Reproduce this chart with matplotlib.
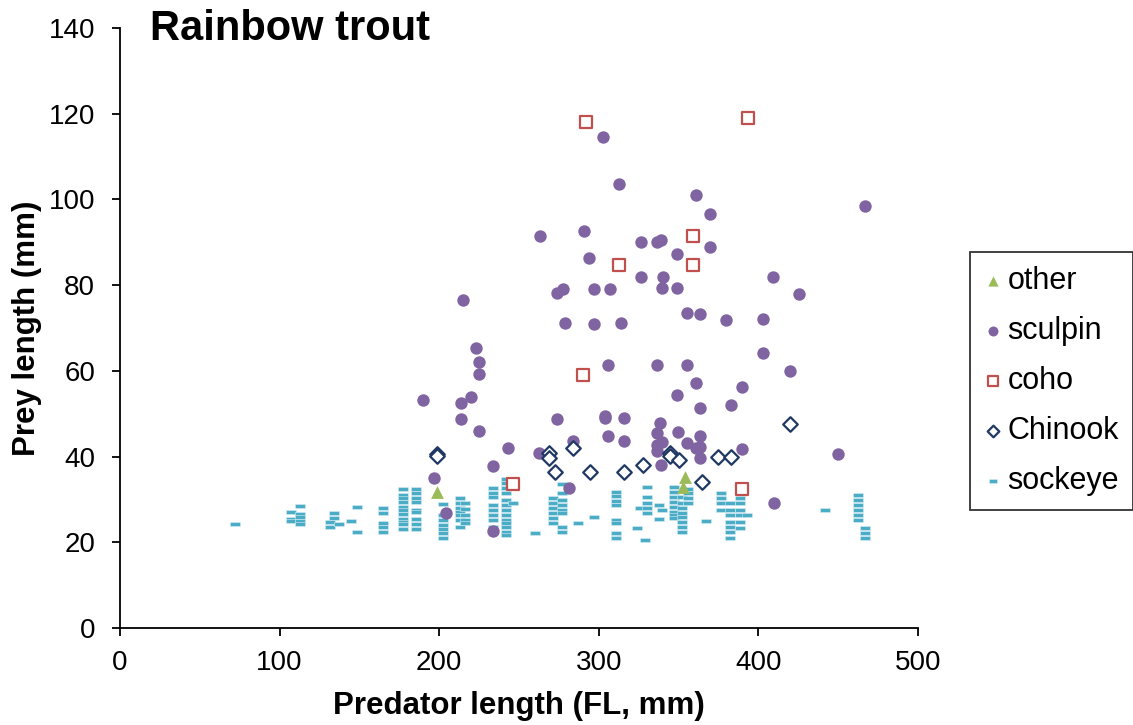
import matplotlib
matplotlib.use("Agg")
import matplotlib.pyplot as plt

plt.rcParams['font.family'] = ['Liberation Sans', 'DejaVu Sans']

# data (predator length, prey length)
other_x = [198.8, 354.0, 352.5]
other_y = [31.8, 35.3, 32.8]

sculpin_x = [302.8, 312.9, 263.0, 290.7, 326.6, 336.2, 338.7, 348.8, 360.9, 369.7,
             369.7, 466.8, 293.9, 326.6, 340.4, 409.3, 273.6, 277.7, 297.0, 306.8,
             339.4, 348.8, 214.7, 425.6, 278.8, 297.0, 313.7, 355.0, 363.6, 379.7,
             402.7, 222.9, 224.7, 224.7, 402.7, 419.8, 305.8, 336.5, 355.0, 360.9,
             348.8, 389.9, 189.7, 219.7, 213.9, 213.9, 363.6, 382.8, 224.7, 273.8,
             303.9, 303.9, 315.6, 305.8, 315.6, 338.3, 336.5, 349.8, 363.6, 336.5,
             339.6, 336.5, 355.0, 363.6, 360.9, 389.9, 242.9, 283.6, 262.7, 233.9,
             338.7, 363.6, 449.6, 196.9, 204.0, 233.9, 281.5, 409.8]
sculpin_y = [114.6, 103.6, 91.4, 92.7, 90.0, 90.0, 90.5, 87.3, 101.0, 96.5,
             88.8, 98.4, 86.3, 82.0, 82.0, 82.0, 78.2, 79.0, 79.0, 79.0,
             79.3, 79.4, 76.6, 77.9, 71.2, 70.9, 71.2, 73.6, 73.2, 71.8,
             72.0, 65.4, 62.1, 59.3, 64.2, 60.0, 61.3, 61.3, 61.4, 57.2,
             54.4, 56.2, 53.1, 54.0, 52.6, 48.7, 51.4, 52.1, 46.0, 48.7,
             49.5, 48.9, 48.9, 44.7, 43.7, 47.8, 45.5, 45.7, 44.8, 42.7,
             43.5, 41.3, 43.1, 42.2, 41.9, 41.7, 41.9, 43.7, 40.9, 37.9,
             38.0, 39.6, 40.6, 35.1, 26.8, 22.7, 32.7, 29.2]

coho_x = [291.8, 393.7, 358.8, 312.9, 358.8, 289.9, 246.4, 389.9]
coho_y = [118.1, 119.1, 91.5, 84.7, 84.7, 59.0, 33.6, 32.4]

chinook_x = [198.8, 198.8, 268.6, 268.6, 283.6, 272.7, 294.7, 316.0, 327.9, 344.6,
             344.6, 350.0, 374.7, 382.8, 419.8, 364.4]
chinook_y = [40.5, 40.1, 40.8, 39.6, 42.1, 36.5, 36.5, 36.5, 38.0, 40.9,
             40.1, 39.2, 40.0, 40.0, 47.5, 34.0]

# sockeye, grouped by predator length column
sockeye_cols = [
    (72.1, [24.3]),
    (107.1, [27.0, 25.4, 25.0]),
    (113.0, [28.5, 26.6, 25.8, 25.0, 24.3]),
    (134.1, [26.9, 25.6]),
    (131.6, [24.8, 23.6]),
    (137.0, [24.3]),
    (145.0, [25.0]),
    (148.5, [28.2, 22.5]),
    (165.0, [27.9, 26.8, 24.4, 23.6, 22.5]),
    (177.1, [32.4, 31.0, 30.3, 29.3, 28.3, 27.5, 26.5, 25.4, 24.8, 24.2, 23.1]),
    (185.2, [32.4, 31.4, 30.3, 29.3, 27.5, 27.1, 25.4, 24.2, 23.1]),
    (202.2, [28.9, 26.4, 25.2, 24.0, 23.1, 22.1, 21.1]),
    (213.0, [30.4, 29.1, 27.9, 27.1, 26.4, 25.2, 23.6]),
    (216.2, [29.1, 27.7, 26.4, 25.2, 24.4]),
    (233.9, [32.6, 31.4, 30.6, 28.7, 27.5, 26.4, 25.2, 23.6]),
    (241.9, [34.8, 33.8, 32.6, 31.4, 29.9, 28.7, 27.5, 26.4, 25.2, 24.4, 23.6, 22.5, 21.7]),
    (246.0, [29.2]),
    (260.0, [22.1]),
    (271.1, [30.3, 29.1, 27.9, 26.8, 25.6, 24.4]),
    (276.7, [33.6, 31.4, 29.9, 28.7, 27.5, 26.8, 23.6, 22.5]),
    (286.8, [24.4]),
    (297.0, [26.0]),
    (310.8, [31.8, 30.8, 29.7, 28.7, 25.2, 24.4, 22.1, 21.1]),
    (324.1, [23.3]),
    (325.8, [28.1]),
    (329.0, [20.5]),
    (330.0, [33.0, 30.6, 29.1, 27.9, 26.8]),
    (338.0, [28.7, 25.4]),
    (339.4, [27.5]),
    (347.1, [33.0, 31.8, 30.6, 29.5, 28.3, 27.1, 26.4, 25.6]),
    (351.9, [30.6, 29.2, 27.9, 26.8, 26.0, 24.8, 23.6, 22.5]),
    (356.1, [32.4, 31.4, 30.4, 29.2]),
    (367.2, [25.0]),
    (376.6, [31.4, 30.3, 29.1, 27.5]),
    (382.2, [29.1, 27.5, 26.4, 24.8, 23.6, 22.5, 21.0]),
    (388.5, [32.6, 31.4, 30.3, 29.1, 27.5, 26.4, 24.8, 23.3]),
    (392.6, [26.4]),
    (441.7, [27.5]),
    (462.6, [31.0, 29.9, 28.7, 27.5, 26.4, 25.2]),
    (466.8, [23.3, 22.1, 20.9]),
]
sockeye_x = [x for x, ys in sockeye_cols for _ in ys]
sockeye_y = [y for _, ys in sockeye_cols for y in ys]

dash = [(-1, -0.46), (1, -0.46), (1, 0.46), (-1, 0.46), (-1, -0.46)]

fig = plt.figure(figsize=(11.33, 7.25), dpi=100)
ax = fig.add_axes([120 / 1133, 1 - 628 / 725, 798 / 1133, 600 / 725])

ax.scatter(sockeye_x, sockeye_y, marker=dash, s=50, color='#4BACC6',
           edgecolor='#D8EEF4', linewidths=0.4, label='sockeye', zorder=2)
ax.scatter(other_x, other_y, marker='^', s=85, color='#9BBB59', linewidths=0,
           label='other', zorder=3)
ax.scatter(sculpin_x, sculpin_y, marker='o', s=80, color='#8064A2', linewidths=0,
           label='sculpin', zorder=3)
ax.scatter(coho_x, coho_y, marker='s', s=70, facecolor='white', edgecolor='#C0504D',
           linewidths=1.6, label='coho', zorder=4)
ax.scatter(chinook_x, chinook_y, marker='D', s=55, facecolor='white', edgecolor='#1F3864',
           linewidths=1.6, label='Chinook', zorder=4)

ax.set_xlim(0, 500)
ax.set_ylim(0, 140)
ax.set_xticks(range(0, 501, 100))
ax.set_yticks(range(0, 141, 20))
ax.spines['top'].set_visible(False)
ax.spines['right'].set_visible(False)
for s in ['left', 'bottom']:
    ax.spines[s].set_linewidth(1.3)
ax.tick_params(direction='out', length=6, width=1.3, labelsize=20)
ax.tick_params(axis='x', pad=10)
ax.tick_params(axis='y', pad=12)

fig.text(150 / 1133, 1 - 40 / 725, 'Rainbow trout', fontsize=30, fontweight='bold',
         va='baseline', ha='left')
fig.text(519 / 1133, 1 - 706 / 725, 'Predator length (FL, mm)', fontsize=22.5,
         fontweight='bold', ha='center', va='center')
fig.text(27 / 1133, 1 - 328 / 725, 'Prey length (mm)', fontsize=22.5, fontweight='bold',
         ha='center', va='center', rotation=90)

h, l = ax.get_legend_handles_labels()
order = [1, 2, 3, 4, 0]
leg = fig.legend([h[i] for i in order], [l[i] for i in order],
                 loc='upper left', bbox_to_anchor=(970 / 1133, 1 - 252 / 725),
                 borderaxespad=0, fontsize=22, frameon=True, fancybox=False,
                 edgecolor='black', handlelength=0.6, handletextpad=0.18,
                 labelspacing=0.66, borderpad=0.45, markerscale=0.8)
leg.get_frame().set_linewidth(1.3)

fig.savefig('out.png', dpi=100)
